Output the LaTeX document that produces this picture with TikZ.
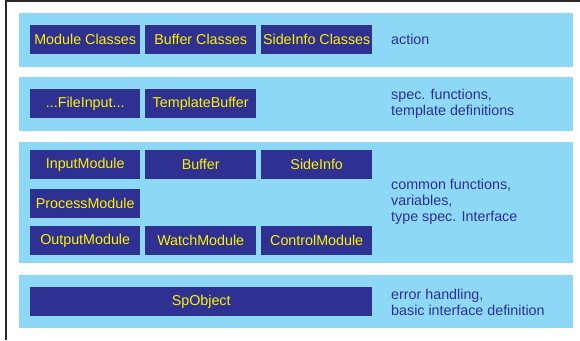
\documentclass[tikz,border=0pt]{standalone}
\usepackage{fontspec}
\setmainfont{Liberation Sans}
\definecolor{bandblue}{RGB}{141,216,246}
\definecolor{boxblue}{RGB}{46,49,146}
\definecolor{boxtext}{RGB}{255,242,0}
\definecolor{framegray}{RGB}{40,40,40}
\tikzset{
  band/.style={fill=bandblue, draw=none},
  boxnode/.style={fill=boxblue, text=boxtext, inner sep=0pt, anchor=north west,
    font=\fontsize{14.3}{16}\selectfont},
  lbl/.style={text=boxblue, anchor=west, inner sep=0pt, align=left,
    font=\fontsize{14.3}{16}\selectfont}
}
\begin{document}
\begin{tikzpicture}[x=1pt,y=-1pt]
\useasboundingbox (0,0) rectangle (580,340);
\fill[white] (0,0) rectangle (580,340);
% frame
\draw[framegray, line width=1.5pt] (6,340) -- (6,0.75) -- (580,0.75);
% bands
\fill[band] (19,13) rectangle (573,67);
\fill[band] (19,77) rectangle (573,131);
\fill[band] (19,142) rectangle (573,263);
\fill[band] (19,275) rectangle (573,328);
% band 1
\node[boxnode, minimum width=110pt, minimum height=29pt] (mc) at (30,25) {Module Classes};
\node[boxnode, minimum width=111pt, minimum height=29pt] (bc) at (145,25) {Buffer Classes};
\node[boxnode, minimum width=111pt, minimum height=29pt] (sc) at (261,25) {SideInfo Classes};
\node[lbl] (l1) at (391,39.5) {action};
% band 2
\node[boxnode, minimum width=110pt, minimum height=29pt] (fi) at (30,89) {...FileInput...};
\node[boxnode, minimum width=111pt, minimum height=29pt] (tb) at (145,89) {TemplateBuffer};
\node[lbl] (l2) at (391,103.5) {spec. functions,\\template definitions};
% band 3
\node[boxnode, minimum width=110pt, minimum height=29pt] (im) at (30,150) {InputModule};
\node[boxnode, minimum width=111pt, minimum height=29pt] (bu) at (145,150) {Buffer};
\node[boxnode, minimum width=111pt, minimum height=29pt] (si) at (261,150) {SideInfo};
\node[boxnode, minimum width=110pt, minimum height=29pt] (pm) at (30,189) {ProcessModule};
\node[boxnode, minimum width=110pt, minimum height=29pt] (om) at (30,226) {OutputModule};
\node[boxnode, minimum width=111pt, minimum height=29pt] (wm) at (145,226) {WatchModule};
\node[boxnode, minimum width=111pt, minimum height=29pt] (cm) at (261,226) {ControlModule};
\node[lbl] (l3) at (391,201.5) {common functions,\\variables,\\type spec. Interface};
% band 4
\node[boxnode, minimum width=342pt, minimum height=29pt] (sp) at (30,287) {SpObject};
\node[lbl] (l4) at (391,302.5) {error handling,\\basic interface definition};
\end{tikzpicture}
\end{document}
